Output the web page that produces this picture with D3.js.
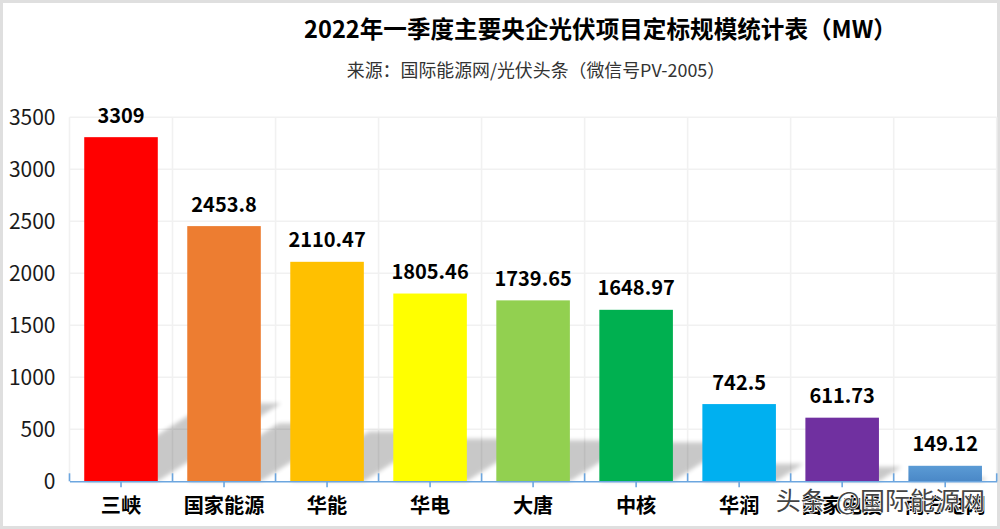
<!DOCTYPE html>
<html lang="zh">
<head>
<meta charset="utf-8">
<script src="https://cdn.jsdelivr.net/npm/d3@7/dist/d3.min.js"></script>
<style>
html,body{margin:0;padding:0;background:#fff;overflow:hidden}
svg{display:block}
text{font-family:"Noto Sans CJK SC","Noto Sans",sans-serif}
</style>
</head>
<body>
<svg id="c" width="1000" height="529"></svg>
<script>
const categories = ["三峡","国家能源","华能","华电","大唐","中核","华润","国家电投","南方电网"];
const values = [3309,2453.8,2110.47,1805.46,1739.65,1648.97,742.5,611.73,149.12];
const valueLabels = ["3309","2453.8","2110.47","1805.46","1739.65","1648.97","742.5","611.73","149.12"];
const barColors = ["#FF0000","#ED7D31","#FFC000","#FFFF00","#92D050","#00B050","#00B0F0","#7030A0","url(#lastBar)"];
const yTicks = [0,500,1000,1500,2000,2500,3000,3500];
const titleText = "2022年一季度主要央企光伏项目定标规模统计表（MW）";
const subtitleText = "来源：国际能源网/光伏头条（微信号PV-2005）";
const watermarkText = "头条 @国际能源网";

const W = 1000, H = 529;
const m = {left:69.5, right:996.7, top:117.3, bottom:481.3};
const svg = d3.select("#c");
const defs = svg.append("defs");
defs.append("filter").attr("id","soft").attr("x","-20%").attr("y","-20%").attr("width","140%").attr("height","140%")
  .append("feGaussianBlur").attr("stdDeviation",2);
const lg = defs.append("linearGradient").attr("id","lastBar").attr("x1",0).attr("x2",0).attr("y1",0).attr("y2",1);
lg.append("stop").attr("offset","0%").attr("stop-color","#5B9BD5");
lg.append("stop").attr("offset","100%").attr("stop-color","#4A88C7");

const x = d3.scaleBand().domain(categories).range([m.left,m.right]).paddingInner(0.286).paddingOuter(0.143);
const y = d3.scaleLinear().domain([0,3500]).range([m.bottom,m.top]);
const step = x.step();
const edge = i => x(categories[0]) - step*x.paddingOuter() + i*step;
const edges = d3.range(categories.length+1);

// frame
svg.append("rect").attr("x",1.5).attr("y",1.5).attr("width",W-3).attr("height",H-3)
  .attr("fill","#fff").attr("stroke","#DFDFDF").attr("stroke-width",3);

// gridlines
const gridColor = "#F1F1F1";
svg.append("g").selectAll("line").data(yTicks.filter(d=>d>0)).join("line")
  .attr("x1",m.left).attr("x2",m.right).attr("y1",d=>y(d)).attr("y2",d=>y(d))
  .attr("stroke",gridColor).attr("stroke-width",1.6);
svg.append("g").selectAll("line").data(edges).join("line")
  .attr("x1",edge).attr("x2",edge).attr("y1",m.top).attr("y2",m.bottom)
  .attr("stroke",gridColor).attr("stroke-width",1.6);

// cast shadows
const shadowRise = 0.227, shadowRun = 1.58;
const shadow = svg.append("g").attr("opacity",0.21).attr("filter","url(#soft)");
const poly = d3.line();
shadow.selectAll("path").data(categories).join("path")
  .attr("fill","#000")
  .attr("d",(c,i)=>{
    const h = y(0)-y(values[i]), sy = h*shadowRise, sx = sy*shadowRun;
    const a = x(c), b = a+x.bandwidth(), base = y(0);
    return poly([[a,base],[b,base],[b+sx,base-sy],[a+sx,base-sy]])+"Z";
  });

// y axis
const yAxis = svg.append("g").attr("transform",`translate(${m.left},0)`)
  .call(d3.axisLeft(y).tickValues(yTicks).tickFormat(d3.format("d")).tickSize(0).tickPadding(14));
yAxis.select(".domain").remove();
yAxis.selectAll("text").attr("font-size",21).attr("fill","#1a1a1a")
  .style("font-family",'"Noto Sans CJK SC",sans-serif');

// bars
svg.append("g").selectAll("rect").data(categories).join("rect")
  .attr("x",c=>x(c)).attr("width",x.bandwidth())
  .attr("y",(c,i)=>y(values[i])).attr("height",(c,i)=>y(0)-y(values[i]))
  .attr("fill",(c,i)=>barColors[i]);

// x axis
const axisColor = "#6CA6DF";
const xAxis = svg.append("g").attr("transform",`translate(0,${m.bottom})`)
  .call(d3.axisBottom(x).tickSize(6).tickPadding(11).tickSizeOuter(0));
xAxis.select(".domain").attr("stroke",axisColor).attr("stroke-width",1.6);
xAxis.selectAll(".tick line").attr("stroke",axisColor).attr("stroke-width",1.6);
xAxis.selectAll("text").attr("font-size",20.2).attr("font-weight",700).attr("fill","#000")
  .style("font-family",'"Noto Sans CJK SC",sans-serif');
svg.append("g").selectAll("line").data(edges).join("line")
  .attr("x1",edge).attr("x2",edge).attr("y1",m.bottom).attr("y2",m.bottom-8)
  .attr("stroke",axisColor).attr("stroke-width",1.6);

// value labels
svg.append("g").selectAll("text").data(categories).join("text")
  .attr("x",c=>x(c)+x.bandwidth()/2).attr("y",(c,i)=>y(values[i])-14.5)
  .attr("text-anchor","middle").attr("font-size",20).attr("font-weight",700).attr("fill","#000")
  .text((c,i)=>valueLabels[i]);

// titles
svg.append("text").attr("x",600.5).attr("y",38).attr("text-anchor","middle")
  .attr("font-size",23.6).attr("font-weight",700).attr("fill","#000").text(titleText);
svg.append("text").attr("x",536).attr("y",76.5).attr("text-anchor","middle")
  .attr("font-size",17.9).attr("fill","#333").text(subtitleText);

// watermark
svg.append("text").attr("x",985).attr("y",510).attr("text-anchor","end")
  .attr("font-size",25).attr("word-spacing",5).attr("fill","#444").attr("stroke","#fff").attr("stroke-width",1.5)
  .attr("paint-order","stroke").text(watermarkText);
</script>
</body>
</html>
